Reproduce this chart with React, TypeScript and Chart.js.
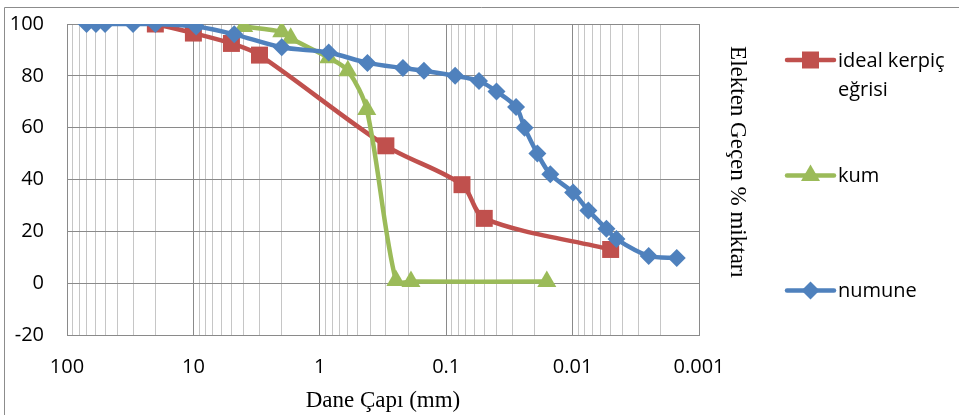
import React, { useEffect, useRef } from 'react';
import { Chart, registerables } from 'chart.js';

Chart.register(...registerables);

// Grain-size distribution data (x: particle diameter in mm, y: % passing)
const idealX = [20, 10, 5, 3, 0.3, 0.075, 0.05, 0.005];
const idealY = [100, 96.5, 92.5, 88, 53, 38, 25, 13];

const kumX = [4, 2, 1.7, 0.85, 0.6, 0.425, 0.25, 0.19, 0.016];
const kumY = [99, 97, 94.5, 87, 82, 67, 1, 0.6, 0.6];

const numuneX = [70, 59, 50, 30, 20, 9.5, 4.75, 2, 0.85, 0.42, 0.22, 0.15, 0.085, 0.055, 0.04, 0.028, 0.024, 0.019, 0.015, 0.0099, 0.0075, 0.0054, 0.0045, 0.0025, 0.0015];
const numuneY = [100, 100, 100, 100, 100, 99, 96, 91, 89, 85, 83, 82, 80, 78, 74, 68, 60, 50, 42, 35, 28, 21, 17, 10.5, 9.7];

const decadeValues = [100, 10, 1, 0.1, 0.01, 0.001];
const decadeLabels = ['100', '10', '1', '0.1', '0.01', '0.001'];

const seriesNames = ['ideal kerpiç eğrisi', 'kum', 'numune'];
const legendLines = [['ideal kerpiç', 'eğrisi'], ['kum'], ['numune']];
const seriesColors = ['#C0504D', '#9BBB59', '#4F81BD'];
const seriesShapes = ['rect', 'triangle', 'rectRot'];

const xTitle = 'Dane Çapı (mm)';
const yTitle = 'Elekten Geçen % miktarı';

const TICK_FONT = '"Open Sans"';
const SERIF = '"Liberation Serif"';

function zip(xs: number[], ys: number[]) {
  return xs.map((x, i) => ({ x, y: ys[i] }));
}

function isDecade(v: number) {
  const l = Math.log10(v);
  return Math.abs(l - Math.round(l)) < 1e-6;
}

function decadeLabel(v: number) {
  for (let i = 0; i < decadeValues.length; i++) {
    if (Math.abs(Math.log10(v) - Math.log10(decadeValues[i])) < 1e-6) return decadeLabels[i];
  }
  return '';
}

function drawMarker(ctx: CanvasRenderingContext2D, shape: string, x: number, y: number, color: string) {
  ctx.fillStyle = color;
  ctx.beginPath();
  if (shape === 'rect') {
    const h = 8.5;
    ctx.rect(x - h, y - h, 2 * h, 2 * h);
  } else if (shape === 'triangle') {
    const r = 11;
    ctx.moveTo(x, y - r);
    ctx.lineTo(x + r * Math.sin((2 * Math.PI) / 3), y - r * Math.cos((2 * Math.PI) / 3));
    ctx.lineTo(x + r * Math.sin((4 * Math.PI) / 3), y - r * Math.cos((4 * Math.PI) / 3));
    ctx.closePath();
  } else {
    const r = 9;
    ctx.moveTo(x - r, y);
    ctx.lineTo(x, y - r);
    ctx.lineTo(x + r, y);
    ctx.lineTo(x, y + r);
    ctx.closePath();
  }
  ctx.fill();
}

const overlayPlugin = {
  id: 'overlay',
  afterDraw(chart: any) {
    const ctx: CanvasRenderingContext2D = chart.ctx;
    ctx.save();
    // outer frame
    ctx.strokeStyle = '#8c8c8c';
    ctx.lineWidth = 1;
    ctx.beginPath();
    ctx.moveTo(4.5, 415);
    ctx.lineTo(4.5, 7.5);
    ctx.lineTo(959, 7.5);
    ctx.stroke();

    // right-side vertical title
    ctx.save();
    ctx.translate(737, 162);
    ctx.rotate(Math.PI / 2);
    ctx.font = `23px ${SERIF}`;
    ctx.fillStyle = '#000';
    ctx.textAlign = 'center';
    ctx.textBaseline = 'middle';
    ctx.fillText(yTitle, 0, 0);
    ctx.restore();

    // legend
    const ys = [60, 175.5, 290.5];
    ctx.font = `20px ${TICK_FONT}`;
    ctx.textAlign = 'left';
    ctx.textBaseline = 'middle';
    for (let i = 0; i < seriesNames.length; i++) {
      const y = ys[i];
      ctx.strokeStyle = seriesColors[i];
      ctx.lineWidth = 4.5;
      ctx.lineCap = 'round';
      ctx.beginPath();
      ctx.moveTo(787, y);
      ctx.lineTo(834, y);
      ctx.stroke();
      drawMarker(ctx, seriesShapes[i], 810.5, y, seriesColors[i]);
      ctx.fillStyle = '#000';
      legendLines[i].forEach((line, j) => {
        ctx.fillText(line, 838, y + 1 + j * 29);
      });
    }
    ctx.restore();
  },
};

export default function App() {
  const canvasRef = useRef<HTMLCanvasElement | null>(null);

  useEffect(() => {
    const canvas = canvasRef.current;
    if (!canvas) return;

    const majorGrid = '#8a8a8a';
    const minorGrid = '#c6c6c6';

    const chart = new Chart(canvas, {
      type: 'line',
      data: {
        datasets: [
          {
            label: seriesNames[0],
            data: zip(idealX, idealY),
            borderColor: seriesColors[0],
            backgroundColor: seriesColors[0],
            borderWidth: 4.5,
            pointStyle: 'rect',
            pointRadius: 12,
            pointBorderWidth: 0,
            tension: 0.3,
            order: 2,
          },
          {
            label: seriesNames[1],
            data: zip(kumX, kumY),
            borderColor: seriesColors[1],
            backgroundColor: seriesColors[1],
            borderWidth: 4.5,
            pointStyle: 'triangle',
            pointRadius: 11,
            pointBorderWidth: 0,
            tension: 0.3,
            order: 1,
          },
          {
            label: seriesNames[2],
            data: zip(numuneX, numuneY),
            borderColor: seriesColors[2],
            backgroundColor: seriesColors[2],
            borderWidth: 4.5,
            pointStyle: 'rectRot',
            pointRadius: 9,
            pointBorderWidth: 0,
            tension: 0.3,
            order: 0,
          },
        ],
      },
      options: {
        responsive: false,
        maintainAspectRatio: false,
        animation: false,
        layout: { padding: { left: 0, top: 24, right: 260, bottom: 0 } },
        plugins: {
          legend: { display: false },
          tooltip: { enabled: false },
        },
        scales: {
          x: {
            type: 'logarithmic',
            min: 0.001,
            max: 100,
            reverse: true,
            afterBuildTicks: (scale: any) => {
              const ticks: { value: number }[] = [];
              for (let e = -3; e <= 2; e++) {
                for (let m = 1; m <= 9; m++) {
                  const v = Number((m * Math.pow(10, e)).toPrecision(6));
                  if (v >= 0.001 && v <= 100) ticks.push({ value: v });
                }
              }
              scale.ticks = ticks;
            },
            afterFit: (scale: any) => {
              scale.height = 80;
              scale.paddingLeft = 0;
              scale.paddingRight = 0;
            },
            ticks: {
              autoSkip: false,
              maxRotation: 0,
              minRotation: 0,
              padding: 20,
              color: '#000',
              font: { family: TICK_FONT, size: 20 },
              callback: (value: any) => decadeLabel(Number(value)),
            },
            grid: {
              drawTicks: false,
              tickLength: 0,
              color: (ctx: any) => (ctx.tick && isDecade(ctx.tick.value) ? majorGrid : minorGrid),
              lineWidth: 1,
            },
            border: { display: true, color: majorGrid, width: 1 },
            title: {
              display: true,
              text: xTitle,
              color: '#000',
              font: { family: SERIF, size: 23 },
              padding: { top: 0, bottom: 0 },
            },
          },
          y: {
            type: 'linear',
            min: -20,
            max: 100,
            afterFit: (scale: any) => {
              scale.width = 67;
              scale.paddingTop = 0;
              scale.paddingBottom = 0;
            },
            ticks: {
              stepSize: 20,
              padding: 23,
              color: '#000',
              font: { family: TICK_FONT, size: 20 },
            },
            grid: {
              drawTicks: false,
              tickLength: 0,
              color: majorGrid,
              lineWidth: 1,
            },
            border: { display: true, color: majorGrid, width: 1 },
          },
        },
      },
      plugins: [overlayPlugin],
    } as any);

    return () => {
      chart.destroy();
    };
  }, []);

  return (
    <div style={{ position: 'fixed', left: 0, top: 0, width: 959, height: 415, background: '#fff' }}>
      <canvas ref={canvasRef} width={959} height={415} style={{ width: 959, height: 415, display: 'block' }} />
    </div>
  );
}
